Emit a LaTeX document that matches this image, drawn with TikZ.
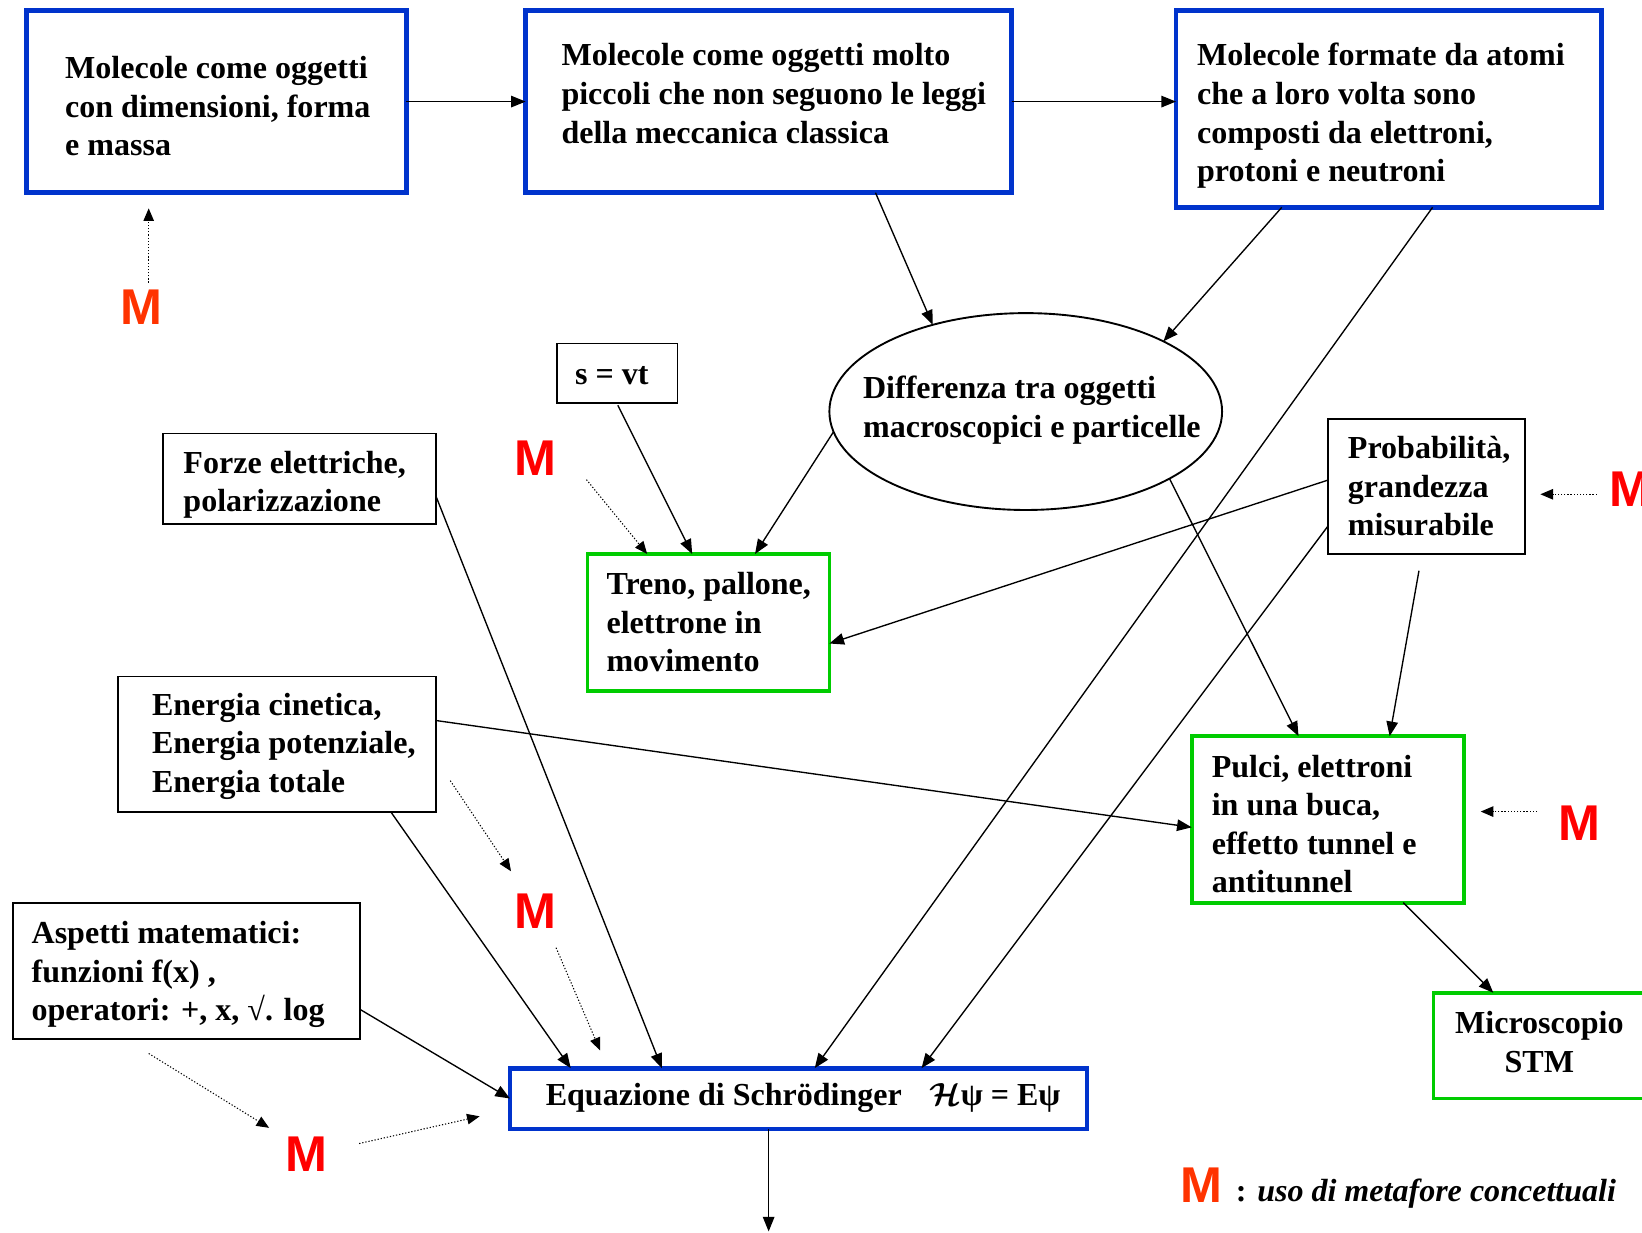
\RequirePackage{fix-cm}
\documentclass[tikz,border=0pt]{standalone}
\usepackage{fontspec}
\setmainfont{Liberation Serif}
\newfontfamily\msans{Liberation Sans}
\usetikzlibrary{arrows.meta,shapes.geometric,calc}
\definecolor{bblue}{RGB}{0,51,204}
\definecolor{bgreen}{RGB}{0,204,0}
\definecolor{mred}{RGB}{255,0,0}
\definecolor{mored}{RGB}{255,51,0}
\begin{document}
\begin{tikzpicture}[x=1pt,y=-1pt,
  bluebox/.style={draw=bblue,line width=4.5pt,rectangle,inner sep=0pt,outer sep=0pt},
  greenbox/.style={draw=bgreen,line width=3.5pt,rectangle,inner sep=0pt,outer sep=0pt},
  blackbox/.style={draw=black,line width=1.8pt,rectangle,inner sep=0pt,outer sep=0pt},
  txt/.style={inner sep=0pt,anchor=base west,align=left,font=\bfseries\fontsize{30.6}{36.8}\selectfont},
  mlet/.style={inner sep=0pt,font=\msans\bfseries\fontsize{48}{48}\selectfont,text=mred},
  arr/.style={line width=1.3pt,-{Triangle[length=14pt,width=11pt]}},
  darr/.style={line width=1pt,dash pattern=on 1.2pt off 1.8pt,-{Triangle[length=12pt,width=10pt]}},
]
\useasboundingbox (0,0) rectangle (1568,1177);
% boxes
\node[bluebox,minimum width=363pt,minimum height=174pt] (b1) at (206.5,97) {};
\node[bluebox,minimum width=464pt,minimum height=174pt] (b2) at (734,97) {};
\node[bluebox,minimum width=406pt,minimum height=188pt] (b3) at (1326,104) {};
\node[blackbox,minimum width=115pt,minimum height=57pt] (svt) at (589.5,356.5) {};
\node[draw,ellipse,line width=1.8pt,minimum width=375pt,minimum height=188pt,inner sep=0pt,outer sep=0pt] (el) at (979.5,393) {};
\node[blackbox,minimum width=260pt,minimum height=86pt] (forze) at (286,457) {};
\node[greenbox,minimum width=231pt,minimum height=131pt] (treno) at (676.5,594.5) {};
\node[blackbox,minimum width=188pt,minimum height=129pt] (prob) at (1362,464.5) {};
\node[blackbox,minimum width=303pt,minimum height=129pt] (ener) at (264.5,710.5) {};
\node[blackbox,minimum width=332pt,minimum height=130pt] (asp) at (178,927) {};
\node[bluebox,minimum width=551pt,minimum height=58pt] (eq) at (762.5,1049) {};
\node[greenbox,minimum width=260pt,minimum height=159pt] (pulci) at (1268,782.5) {};
\node[greenbox,minimum width=206pt,minimum height=101pt] (stm) at (1472,998.5) {};
% texts (anchor = baseline of the last line)
\node[txt] (t1) at (62,148.6) {Molecole come oggetti\\con dimensioni, forma\\e massa};
\node[txt] (t2) at (536,136.6) {Molecole come oggetti molto\\piccoli che non seguono le leggi\\della meccanica classica};
\node[txt] (t3) at (1143,173.4) {Molecole formate da atomi\\che a loro volta sono\\composti da elettroni,\\protoni e neutroni};
\node[txt] (tel) at (824,417.8) {Differenza tra oggetti\\macroscopici e particelle};
\node[txt] (tsvt) at (549,367) {s = vt};
\node[txt] (tforze) at (175,488.8) {Forze elettriche,\\polarizzazione};
\node[txt] (ttreno) at (579,641.6) {Treno, pallone,\\elettrone in\\movimento};
\node[txt] (tprob) at (1287,511.6) {Probabilità,\\grandezza\\misurabile};
\node[txt] (tener) at (145,756.6) {Energia cinetica,\\Energia potenziale,\\Energia totale};
\node[txt] (tasp) at (30,974.6) {Aspetti matematici:\\funzioni f(x) ,\\operatori: +, x, √. log};
\node[txt] (teq) at (521,1056) {Equazione di Schrödinger\hspace{26pt}{\boldmath$\mathcal{H}$}ψ = Eψ};
\node[txt] (tpulci) at (1157,852.4) {Pulci, elettroni\\in una buca,\\effetto tunnel e\\antitunnel};
\node[txt,anchor=base,align=center] (tstm) at (1470,1023.8) {Microscopio\\STM};
% M labels
\node[mlet,text=mored] (m1) at (135,293) {M};
\node[mlet] (m2) at (511,438) {M};
\node[mlet] (m3) at (1557,467) {M};
\node[mlet] (m4) at (511,870) {M};
\node[mlet] (m5) at (293,1102) {M};
\node[mlet] (m6) at (1508,786) {M};
\node[mlet,text=mored] (mleg) at (1147,1132) {M};
\node[txt] (tleg) at (1180,1147) {: {\itshape uso di metafore concettuali}};
% connectors
\draw[arr] (b1.east) -- (b2.west);
\draw[arr] (b2.east) -- (b2.east -| b3.west);
\draw[arr] ($(b2.south west)+(334,0)$) -- (el.137);
\draw[arr] ($(b3.south west)+(101,0)$) -- (el.27);
\draw[arr] ($(b3.south west)+(245,0)$) -- ($(eq.north west)+(291,0)$);
\draw[arr] ($(svt.south west)+(58,2)$) -- ($(treno.north west)+(100,0)$);
\draw[arr] (el.186) -- ($(treno.north west)+(160,0)$);
\draw[arr] ($(forze.east)+(0,16)$) -- ($(eq.north west)+(145,0)$);
\draw[arr] ($(prob.west)+(0,-6)$) -- ($(treno.east)+(0,20)$);
\draw[arr] ($(prob.west)+(0,38)$) -- ($(eq.north west)+(393,0)$);
\draw[arr] ($(prob.south)+(-7,16)$) -- ($(pulci.north west)+(189,0)$);
\draw[arr] (el.-25) -- ($(pulci.north west)+(102,0)$);
\draw[arr] ($(ener.east)+(0,-22.5)$) -- ($(pulci.west)+(0,7.5)$);
\draw[arr] ($(ener.south east)+(-43,0)$) -- ($(eq.north west)+(58,0)$);
\draw[arr] ($(asp.east)+(0,37)$) -- (eq.west);
\draw[arr] ($(pulci.south west)+(202,0)$) -- ($(stm.north west)+(57,0)$);
\coordinate (es) at ($(eq.south west)+(247,0)$);
\coordinate (bot) at (734,1176);
\draw[arr] (es) -- (es |- bot);
% dotted metaphor arrows
\draw[darr] ($(m1)+(7,-23)$) -- ($(b1.south west)+(117,15)$);
\draw[darr] ($(m2)+(49,20)$) -- ($(treno.north west)+(57,0)$);
\draw[darr] ($(m3.west)+(-12,5)$) -- ($(prob.east)+(15,7.5)$);
\draw[darr] ($(ener.east)+(14,35)$) -- ($(m4)+(-23,-38)$);
\draw[darr] ($(m4)+(20,35)$) -- ($(eq.north west)+(86,-17)$);
\draw[darr] ($(asp.south west)+(130,14)$) -- ($(m5)+(-36,-25)$);
\draw[darr] ($(m5)+(50,-10)$) -- ($(eq.west)+(-29,17)$);
\draw[darr] ($(m6.west)+(-20,-11)$) -- ($(pulci.east)+(16,-7.5)$);
\end{tikzpicture}
\end{document}
